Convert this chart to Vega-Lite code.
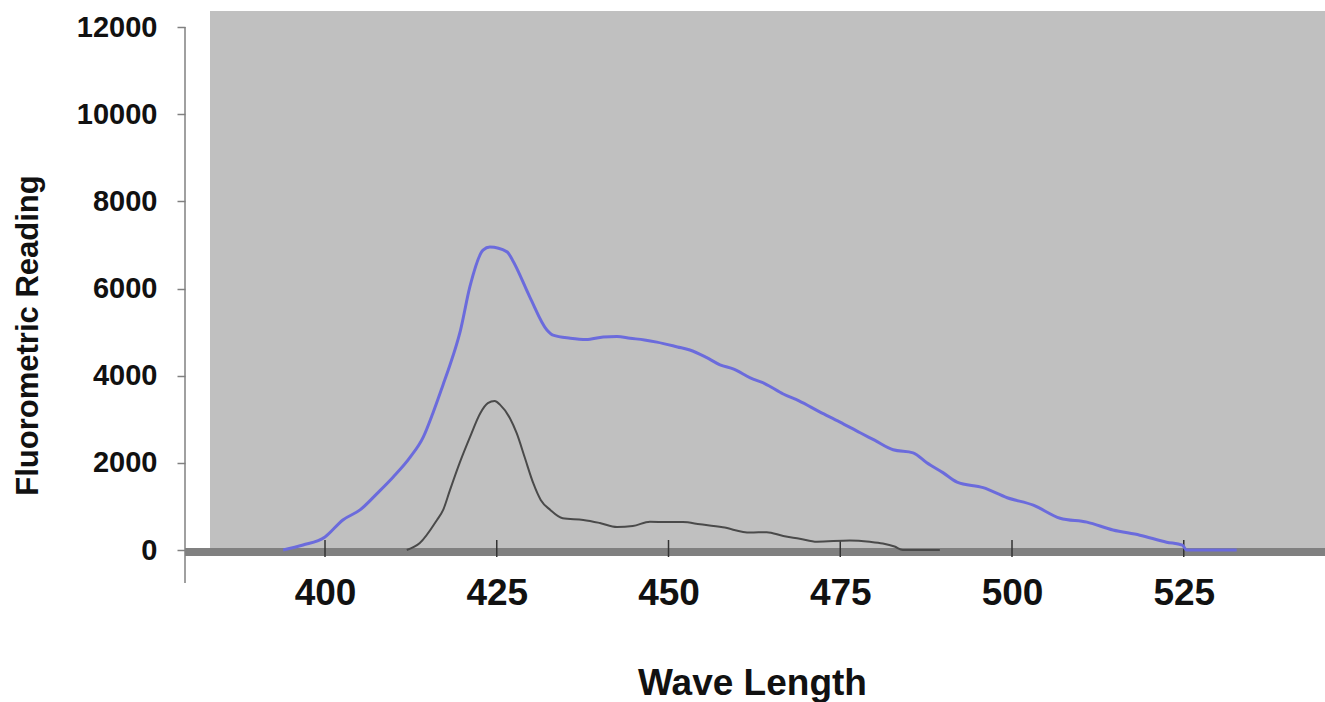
{
  "$schema": "https://vega.github.io/schema/vega-lite/v6.json",
  "autosize": "none",
  "width": 1140,
  "height": 572,
  "padding": {"left": 185, "top": 11, "right": 0, "bottom": 119},
  "background": "#ffffff",
  "config": {"view": {"stroke": null}},
  "data": {"values": [
    {"s": "A", "wl": 393.9, "v": 0}, {"s": "A", "wl": 396.8, "v": 115}, {"s": "A", "wl": 400.0, "v": 300},
    {"s": "A", "wl": 402.6, "v": 690}, {"s": "A", "wl": 405.1, "v": 920}, {"s": "A", "wl": 407.6, "v": 1300},
    {"s": "A", "wl": 409.9, "v": 1670}, {"s": "A", "wl": 412.4, "v": 2130}, {"s": "A", "wl": 414.3, "v": 2590},
    {"s": "A", "wl": 415.7, "v": 3140}, {"s": "A", "wl": 417.2, "v": 3800}, {"s": "A", "wl": 418.2, "v": 4250},
    {"s": "A", "wl": 419.7, "v": 5030}, {"s": "A", "wl": 421.1, "v": 6050}, {"s": "A", "wl": 423.0, "v": 6880},
    {"s": "A", "wl": 424.0, "v": 6950}, {"s": "A", "wl": 426.5, "v": 6840}, {"s": "A", "wl": 427.3, "v": 6650},
    {"s": "A", "wl": 429.8, "v": 5810}, {"s": "A", "wl": 432.3, "v": 5050}, {"s": "A", "wl": 433.2, "v": 4930},
    {"s": "A", "wl": 435.7, "v": 4860}, {"s": "A", "wl": 438.0, "v": 4830}, {"s": "A", "wl": 440.5, "v": 4890},
    {"s": "A", "wl": 442.5, "v": 4900}, {"s": "A", "wl": 444.4, "v": 4860}, {"s": "A", "wl": 446.5, "v": 4820},
    {"s": "A", "wl": 448.3, "v": 4770}, {"s": "A", "wl": 451.3, "v": 4660}, {"s": "A", "wl": 453.1, "v": 4590},
    {"s": "A", "wl": 455.5, "v": 4420}, {"s": "A", "wl": 457.5, "v": 4250}, {"s": "A", "wl": 459.5, "v": 4150},
    {"s": "A", "wl": 461.9, "v": 3950}, {"s": "A", "wl": 464.0, "v": 3820}, {"s": "A", "wl": 466.7, "v": 3580},
    {"s": "A", "wl": 469.0, "v": 3420}, {"s": "A", "wl": 472.0, "v": 3170}, {"s": "A", "wl": 474.9, "v": 2940},
    {"s": "A", "wl": 477.9, "v": 2690}, {"s": "A", "wl": 480.0, "v": 2520}, {"s": "A", "wl": 482.7, "v": 2300},
    {"s": "A", "wl": 485.6, "v": 2230}, {"s": "A", "wl": 487.6, "v": 2000}, {"s": "A", "wl": 490.0, "v": 1770},
    {"s": "A", "wl": 492.0, "v": 1560}, {"s": "A", "wl": 495.8, "v": 1430}, {"s": "A", "wl": 499.3, "v": 1200},
    {"s": "A", "wl": 503.1, "v": 1030}, {"s": "A", "wl": 507.0, "v": 730}, {"s": "A", "wl": 510.9, "v": 640},
    {"s": "A", "wl": 514.7, "v": 460}, {"s": "A", "wl": 518.6, "v": 340}, {"s": "A", "wl": 522.5, "v": 180},
    {"s": "A", "wl": 524.8, "v": 110}, {"s": "A", "wl": 525.4, "v": 0}, {"s": "A", "wl": 532.7, "v": 0},
    {"s": "B", "wl": 411.9, "v": 0}, {"s": "B", "wl": 413.8, "v": 160}, {"s": "B", "wl": 416.3, "v": 690},
    {"s": "B", "wl": 417.2, "v": 920}, {"s": "B", "wl": 418.2, "v": 1380}, {"s": "B", "wl": 419.6, "v": 2000},
    {"s": "B", "wl": 421.1, "v": 2590}, {"s": "B", "wl": 422.6, "v": 3140}, {"s": "B", "wl": 423.7, "v": 3370},
    {"s": "B", "wl": 424.7, "v": 3420}, {"s": "B", "wl": 425.5, "v": 3330}, {"s": "B", "wl": 426.9, "v": 3030},
    {"s": "B", "wl": 427.9, "v": 2680}, {"s": "B", "wl": 429.1, "v": 2110}, {"s": "B", "wl": 430.3, "v": 1540},
    {"s": "B", "wl": 431.4, "v": 1150}, {"s": "B", "wl": 432.8, "v": 920}, {"s": "B", "wl": 434.6, "v": 730},
    {"s": "B", "wl": 437.6, "v": 690}, {"s": "B", "wl": 440.0, "v": 620}, {"s": "B", "wl": 442.5, "v": 530},
    {"s": "B", "wl": 444.8, "v": 550}, {"s": "B", "wl": 447.3, "v": 650}, {"s": "B", "wl": 449.8, "v": 640},
    {"s": "B", "wl": 452.1, "v": 640}, {"s": "B", "wl": 454.6, "v": 590}, {"s": "B", "wl": 457.9, "v": 520},
    {"s": "B", "wl": 461.9, "v": 400}, {"s": "B", "wl": 464.3, "v": 410}, {"s": "B", "wl": 466.7, "v": 320},
    {"s": "B", "wl": 469.1, "v": 260}, {"s": "B", "wl": 471.6, "v": 190}, {"s": "B", "wl": 476.4, "v": 220},
    {"s": "B", "wl": 479.3, "v": 190}, {"s": "B", "wl": 481.2, "v": 150}, {"s": "B", "wl": 482.9, "v": 80},
    {"s": "B", "wl": 484.1, "v": 0}, {"s": "B", "wl": 489.5, "v": 0}
  ]},
  "layer": [
    {
      "data": {"values": [{}]},
      "mark": {"type": "rect", "color": "#c0c0c0"},
      "encoding": {
        "x": {"datum": 383.26, "type": "quantitative", "scale": {"domain": [379.62, 545.56], "nice": false, "zero": false}},
        "x2": {"datum": 545.56},
        "y": {"datum": 0, "type": "quantitative", "scale": {"domain": [-757, 12368], "nice": false, "zero": false}},
        "y2": {"datum": 12368}
      }
    },
    {
      "data": {"values": [{}]},
      "mark": {"type": "rule", "color": "#808080", "strokeWidth": 8},
      "encoding": {"y": {"datum": -45, "type": "quantitative"}}
    },
    {
      "data": {"values": [{}]},
      "mark": {"type": "rule", "color": "#808080", "strokeWidth": 1.5},
      "encoding": {
        "x": {"datum": 379.62, "type": "quantitative"},
        "y": {"datum": -757, "type": "quantitative"},
        "y2": {"datum": 12000}
      }
    },
    {
      "data": {"values": [{"t": 400}, {"t": 425}, {"t": 450}, {"t": 475}, {"t": 500}, {"t": 525}]},
      "mark": {"type": "rule", "color": "#333333", "strokeWidth": 1.5},
      "encoding": {
        "x": {"field": "t", "type": "quantitative"},
        "y": {"datum": -160, "type": "quantitative"},
        "y2": {"datum": 230}
      }
    },
    {
      "transform": [{"filter": "datum.s === 'B'"}],
      "mark": {"type": "line", "color": "#4a4a4a", "strokeWidth": 2, "interpolate": "monotone"},
      "encoding": {
        "x": {"field": "wl", "type": "quantitative"},
        "y": {"field": "v", "type": "quantitative"}
      }
    },
    {
      "transform": [{"filter": "datum.s === 'A'"}],
      "mark": {"type": "line", "color": "#6b6bdc", "strokeWidth": 3, "interpolate": "monotone"},
      "encoding": {
        "x": {
          "field": "wl", "type": "quantitative",
          "axis": {
            "title": "Wave Length",
            "values": [400, 425, 450, 475, 500, 525],
            "format": "d",
            "offset": -35,
            "domain": false,
            "grid": false,
            "ticks": true,
            "tickSize": 9,
            "tickOpacity": 0,
            "labelPadding": 36,
            "labelBaseline": "middle",
            "labelFont": "Liberation Sans",
            "labelFontWeight": "bold",
            "labelFontSize": 37,
            "labelColor": "#111111",
            "labelFlush": false,
            "labelOverlap": false,
            "labelBound": false,
            "titleFont": "Liberation Sans",
            "titleFontWeight": "bold",
            "titleFontSize": 37,
            "titleColor": "#111111",
            "titleX": 567,
            "titleY": 146,
            "titleAlign": "center",
            "titleBaseline": "alphabetic"
          }
        },
        "y": {
          "field": "v", "type": "quantitative",
          "axis": {
            "title": "Fluorometric Reading",
            "values": [0, 2000, 4000, 6000, 8000, 10000, 12000],
            "format": "d",
            "domain": false,
            "grid": false,
            "tickSize": 8,
            "tickColor": "#808080",
            "tickWidth": 1.5,
            "labelPadding": 20,
            "labelBaseline": "middle",
            "labelFont": "Liberation Sans",
            "labelFontWeight": "bold",
            "labelFontSize": 29,
            "labelColor": "#111111",
            "labelOverlap": false,
            "labelBound": false,
            "titleFont": "Liberation Sans",
            "titleFontWeight": "bold",
            "titleFontSize": 31,
            "titleColor": "#111111",
            "titleAngle": 270,
            "titleX": -148,
            "titleY": 324,
            "titleAlign": "center",
            "titleBaseline": "alphabetic"
          }
        }
      }
    }
  ]
}
